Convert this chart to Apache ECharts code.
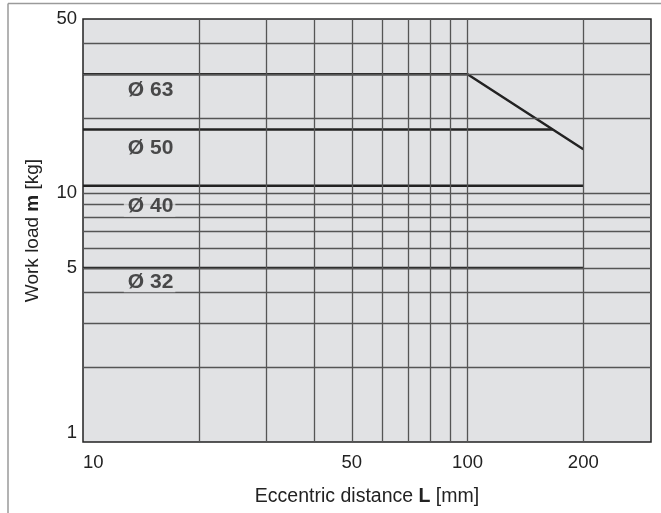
<!DOCTYPE html>
<html>
<head>
<meta charset="utf-8">
<script src="https://cdn.jsdelivr.net/npm/echarts@6/dist/echarts.min.js"></script>
<style>
  html, body { margin: 0; padding: 0; background: #fff; }
  #main { width: 661px; height: 513px; }
</style>
</head>
<body>
<div id="main"></div>
<script>
// eccentric distance L [mm] / work load m [kg], both log scale
const xGrid = [20, 30, 40, 50, 60, 70, 80, 90, 100, 200]
const yGrid = [2, 3, 4, 5, 6, 7, 8, 9, 10, 20, 30, 40]
const xLabels = [10, 50, 100, 200]
const yLabels = [1, 5, 10, 50]

const bore63 = [[10, 30], [100, 30], [200, 15]]
const bore50 = [[10, 18], [166.7, 18]]
const bore40 = [[10, 10.7], [200, 10.7]]
const bore32 = [[10, 5], [200, 5]]

const boreNames = ['Ø 63', 'Ø 50', 'Ø 40', 'Ø 32']
const labelPos = [[14.9, 25.8], [14.9, 15.2], [14.9, 8.85], [14.9, 4.4]]

const chart = echarts.init(document.getElementById('main'))
const gridColor = '#555'
const plotBg = '#e1e2e4'

function boreSeries (data) {
  return {
    type: 'line',
    data: data,
    symbol: 'none',
    silent: true,
    z: 3,
    lineStyle: { color: '#222', width: 2.5 }
  }
}

const gridMarks = []
xGrid.forEach(v => gridMarks.push({ xAxis: v }))
yGrid.forEach(v => gridMarks.push({ yAxis: v }))

const option = {
  animation: false,
  textStyle: { fontFamily: 'Liberation Sans, Arial, sans-serif' },
  grid: {
    left: 83, right: 10, top: 19, bottom: 71,
    show: true,
    backgroundColor: plotBg,
    borderColor: '#222',
    borderWidth: 1.5
  },
  xAxis: {
    type: 'log',
    logBase: 10,
    min: 10,
    max: 300,
    name: '{n|Eccentric distance }{b|L}{n| [mm]}',
    nameLocation: 'middle',
    nameGap: 45,
    nameTextStyle: {
      rich: {
        n: { fontSize: 19.5, color: '#222' },
        b: { fontSize: 19.5, color: '#222', fontWeight: 'bold' }
      }
    },
    axisLine: { show: false },
    axisTick: { show: false },
    splitLine: { show: false },
    axisLabel: {
      customValues: xLabels,
      fontSize: 18.5,
      color: '#222',
      margin: 11,
      alignMinLabel: 'left'
    }
  },
  yAxis: {
    type: 'log',
    logBase: 10,
    min: 1,
    max: 50,
    name: '{n|Work load }{b|m}{n| [kg]}',
    nameLocation: 'middle',
    nameGap: 41,
    nameRotate: 90,
    nameTextStyle: {
      rich: {
        n: { fontSize: 19, color: '#222' },
        b: { fontSize: 19, color: '#222', fontWeight: 'bold' }
      }
    },
    axisLine: { show: false },
    axisTick: { show: false },
    splitLine: { show: false },
    axisLabel: {
      customValues: yLabels,
      fontSize: 18.5,
      color: '#222',
      margin: 6,
      verticalAlignMinLabel: 'bottom'
    }
  },
  graphic: [
    { type: 'line', shape: { x1: 8, y1: 3.5, x2: 661, y2: 3.5 }, style: { stroke: '#9a9a9a', lineWidth: 1.5 } },
    { type: 'line', shape: { x1: 8, y1: 3.5, x2: 8, y2: 513 }, style: { stroke: '#9a9a9a', lineWidth: 1.5 } }
  ],
  series: [
    {
      type: 'line',
      data: [],
      silent: true,
      z: 1,
      markLine: {
        silent: true,
        symbol: ['none', 'none'],
        label: { show: false },
        lineStyle: { color: gridColor, width: 1.3, type: 'solid' },
        emphasis: { disabled: true },
        data: gridMarks
      }
    },
    boreSeries(bore63),
    boreSeries(bore50),
    boreSeries(bore40),
    boreSeries(bore32),
    {
      type: 'scatter',
      symbolSize: 0,
      silent: true,
      z: 5,
      data: labelPos.map((p, i) => ({ value: p, name: boreNames[i] })),
      label: {
        show: true,
        position: 'inside',
        formatter: '{b}',
        fontSize: 21,
        fontWeight: 'bold',
        color: '#222',
        backgroundColor: plotBg,
        padding: [0, 2, 0, 4]
      }
    }
  ]
}

chart.setOption(option)
</script>
</body>
</html>
